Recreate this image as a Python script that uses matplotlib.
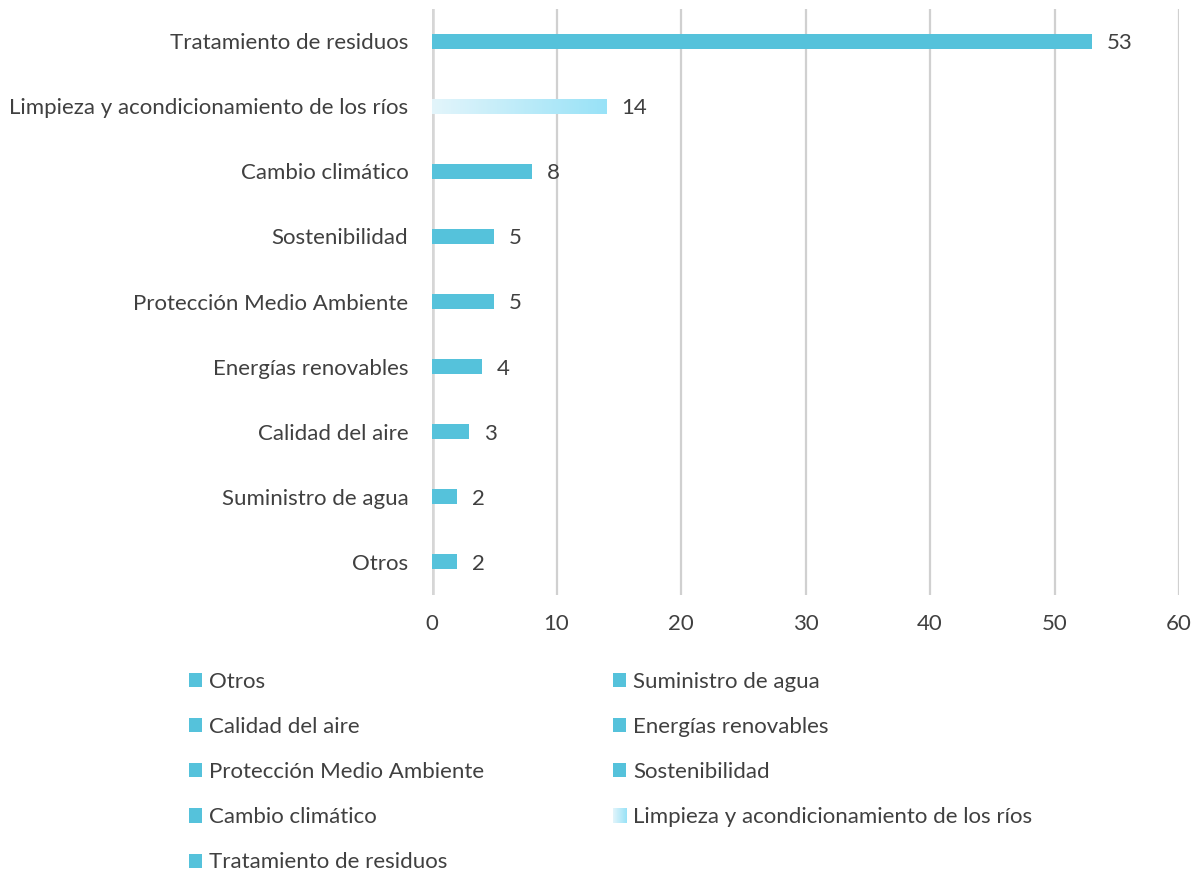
import matplotlib
matplotlib.use("Agg")
import matplotlib.pyplot as plt
import numpy as np
from matplotlib.patches import Patch
from matplotlib.colors import LinearSegmentedColormap

categories = ["Tratamiento de residuos", "Limpieza y acondicionamiento de los ríos",
              "Cambio climático", "Sostenibilidad", "Protección Medio Ambiente",
              "Energías renovables", "Calidad del aire", "Suministro de agua", "Otros"]
values = [53, 14, 8, 5, 5, 4, 3, 2, 2]
legend_order = ["Otros", "Suministro de agua", "Calidad del aire", "Energías renovables",
                "Protección Medio Ambiente", "Sostenibilidad", "Cambio climático",
                "Limpieza y acondicionamiento de los ríos", "Tratamiento de residuos"]
xticks = [0, 10, 20, 30, 40, 50, 60]

MAIN = "#55C2DB"
GRAD = LinearSegmentedColormap.from_list("g", ["#E3F5FB", "#98E2F7"])
TXT = "#404040"
FS = 16
plt.rcParams['font.family'] = ['Lato', 'DejaVu Sans']

fig = plt.figure(figsize=(11.98, 8.71), dpi=100)
ax = fig.add_axes([432/1198, 1-594.5/871, (1179-432)/1198, (594.5-8.5)/871])

y = np.arange(len(categories))[::-1]
bars = ax.barh(y, values, height=0.23, color=MAIN, zorder=3)
grad_idx = categories.index("Limpieza y acondicionamiento de los ríos")
gb = bars[grad_idx]
gb.set_facecolor("none")
gx0, gy0 = gb.get_x(), gb.get_y()
gw, gh = gb.get_width(), gb.get_height()
grad = np.linspace(0, 1, 256).reshape(1, -1)
im = ax.imshow(grad, cmap=GRAD, extent=[gx0, gx0 + gw, gy0, gy0 + gh],
               aspect='auto', zorder=3, interpolation='bilinear')
im.set_clip_path(gb)

for yi, v in zip(y, values):
    ax.text(v + 1.2, yi - 0.03, str(v), va='center', ha='left', fontsize=FS, color=TXT)

ax.set_xlim(0, 60)
ax.set_ylim(-0.5, len(categories) - 0.5)
ax.set_yticks(y)
ax.set_yticklabels(categories, fontsize=FS, color=TXT)
ax.set_xticks(xticks)
ax.set_xticklabels([str(t) for t in xticks], fontsize=FS, color=TXT)
ax.tick_params(axis='both', length=0)
ax.tick_params(axis='y', pad=17)
ax.tick_params(axis='x', pad=14)
for s in ax.spines.values():
    s.set_visible(False)
ax.grid(axis='x', color='#D0D0D0', linewidth=1.6, zorder=0)
ax.axvline(0, color='#D6D6D6', linewidth=4, zorder=2)

# legend in column-major order for 2 columns (row-major visual order)
handles_map = {c: Patch(facecolor=MAIN, edgecolor='none') for c in categories}
order_cm = legend_order[0::2] + legend_order[1::2]
handles = [handles_map[c] for c in order_cm]
leg = fig.legend(handles, order_cm, loc='upper left', bbox_to_anchor=(189/1198, 1-672/871),
                 ncol=2, frameon=False, fontsize=FS, handlelength=0.6, handleheight=0.6,
                 handletextpad=0.3, columnspacing=5.8, labelspacing=1.13,
                 labelcolor=TXT, borderaxespad=0, borderpad=0)

fig.canvas.draw()
leg_handles = leg.legend_handles
gi = order_cm.index("Limpieza y acondicionamiento de los ríos")
hp = leg_handles[gi]
hp.set_facecolor('none')
bb = hp.get_window_extent(fig.canvas.get_renderer())
inv = fig.transFigure.inverted()
(fx0, fy0), (fx1, fy1) = inv.transform([[bb.x0, bb.y0], [bb.x1, bb.y1]])
iax = fig.add_axes([fx0, fy0, fx1 - fx0, fy1 - fy0])
iax.imshow(grad, cmap=GRAD, aspect='auto', interpolation='bilinear')
iax.axis('off')

fig.savefig("out.png", dpi=100)
